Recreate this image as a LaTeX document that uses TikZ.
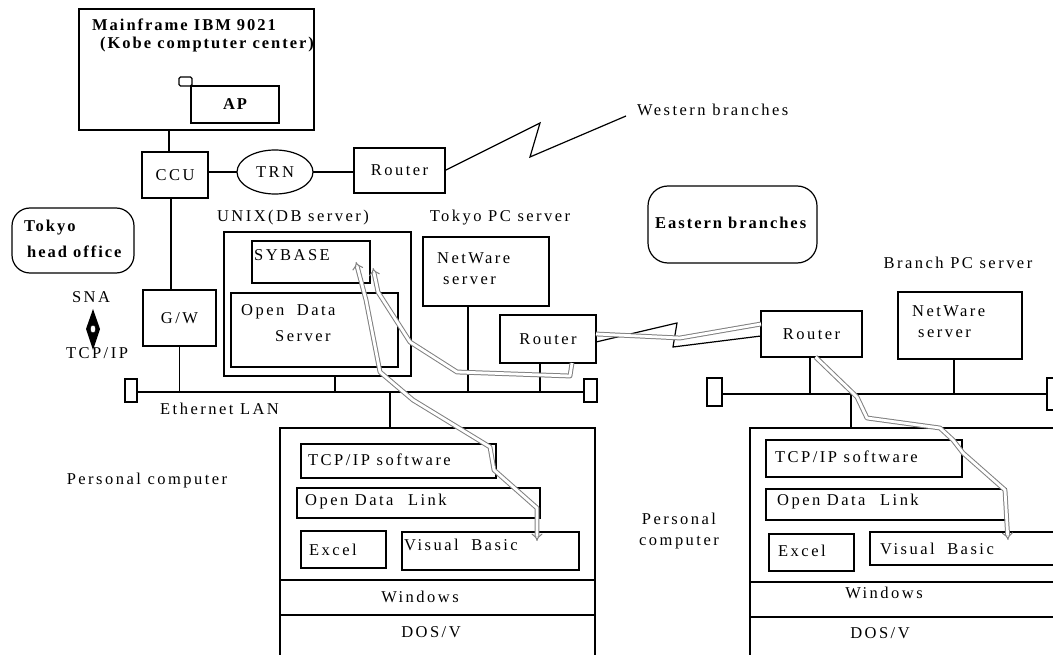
\documentclass[tikz,border=0pt]{standalone}
\usepackage{fontspec}
\setmainfont{Liberation Serif}[LetterSpace=15]
\newfontfamily\boldfam{Liberation Serif}[LetterSpace=12]
\usetikzlibrary{arrows.meta,shapes.geometric}
\begin{document}
\begin{tikzpicture}[x=1pt,y=-1pt,
  box/.style={draw,line width=1.2pt,inner sep=0pt,outer sep=0pt},
  fnt/.style={font=\fontsize{16.5}{20}\selectfont},
  bfnt/.style={font=\fontsize{16.5}{20}\boldfam\bfseries},
  txt/.style={inner sep=0pt,anchor=west,fnt},
  ctxt/.style={inner sep=0pt,fnt},
  btxt/.style={inner sep=0pt,anchor=west,bfnt},
  wire/.style={line width=1.2pt},
  flow/.style={draw=black!50,line width=1pt,double=white,double distance=2.8pt,line join=round},
  ftip/.tip={Implies[scale=1.4]},
]
\clip (0,0) rectangle (1053,655);
\fill[white] (0,0) rectangle (1053,655);

% ---------- Mainframe ----------
\node[box,minimum width=235pt,minimum height=121pt] (mf) at (196.5,69.5) {};
\node[btxt] (mft1) at (92,25) {Mainframe IBM 9021};
\node[btxt] (mft2) at (100,45) {(Kobe comptuter center)};
\node[box,rounded corners=1.5pt,minimum width=13pt,minimum height=9pt] (sq) at (185.5,81.5) {};
\node[box,minimum width=88pt,minimum height=37pt,bfnt] (ap) at (235,104.5) {AP};

% ---------- CCU / TRN / Router ----------
\node[box,minimum width=66pt,minimum height=46pt,fnt] (ccu) at (175,175) {CCU};
\node[box,ellipse,minimum width=76pt,minimum height=44pt,fnt] (trn) at (275,172) {TRN};
\node[box,minimum width=91pt,minimum height=45pt,fnt] (rt1) at (399.5,170.5) {Router};
\draw[wire] ([xshift=-6pt]ccu.north) -- ([xshift=-6pt]ccu.north |- mf.south);
\draw[wire] (ccu.east |- trn.west) -- (trn.west);
\draw[wire] (trn.east) -- (trn.east -| rt1.west);
\coordinate (wbend) at (626,116);
\draw[wire] (rt1.east) -- (540,123) -- (530,157) -- (wbend);
\node[txt] (wbt) at (637,110) {Western branches};

% ---------- Tokyo head office ----------
\node[box,rounded corners=18pt,minimum width=122pt,minimum height=65pt] (tho) at (73,240.5) {};
\node[btxt] (tho1) at (24,228) {Tokyo};
\node[btxt] (tho2) at (27,252) {head office};

% ---------- SNA / TCP/IP ----------
\node[ctxt] (sna) at (91,297) {SNA};
\node[ctxt] (tcpip) at (97,353) {TCP/IP};
\fill (93,309) -- (100,329) -- (93,350) -- (86,329) -- cycle;
\draw[fill=white,line width=0.6pt] (93,329) ellipse (2.8pt and 4pt);

% ---------- G/W ----------
\node[box,minimum width=73pt,minimum height=56pt,fnt] (gw) at (179.5,318) {G/W};
\draw[wire] ([xshift=-4pt]ccu.south) -- ([xshift=-4pt]ccu.south |- gw.north);

% ---------- Tokyo LAN ----------
\node[box,minimum width=12pt,minimum height=23pt] (tl1) at (131,390.5) {};
\node[box,minimum width=13pt,minimum height=23pt] (tr1) at (590.5,390.5) {};
\draw[wire] (tl1.east |- 0,392) -- (tr1.west |- 0,392);
\node[txt] (eth) at (160,409) {Ethernet LAN};
\draw[wire] (gw.south) -- (gw.south |- 0,392);

% ---------- UNIX ----------
\node[ctxt] (unixl) at (293,218) {UNIX(DB server)};
\node[box,minimum width=187pt,minimum height=144pt] (unix) at (317.5,304) {};
\node[box,minimum width=118pt,minimum height=42pt] (syb) at (311,262) {};
\node[txt] (sybt) at (254,255) {SYBASE};
\node[box,minimum width=167pt,minimum height=74pt] (ods) at (314.5,330) {};
\node[txt] (ods1) at (241,312) {Open\hspace{6pt} Data};
\node[txt] (ods2) at (275,336) {Server};
\draw[wire] (335,376) -- (335,392);

% ---------- Tokyo PC server ----------
\node[ctxt] (tpcl) at (500,218) {Tokyo PC server};
\node[box,minimum width=126pt,minimum height=69pt] (nw1) at (486,271.5) {};
\node[txt] (nw1a) at (437,258) {NetWare};
\node[txt] (nw1b) at (443,281) {server};
\draw[wire] (468,306) -- (468,392);
\node[box,minimum width=96pt,minimum height=48pt,fnt] (rt2) at (548,339) {Router};
\draw[wire] (540,363) -- (540,392);

% ---------- WAN link ----------
\node[box,minimum width=101pt,minimum height=46pt,fnt] (rt3) at (811.5,334) {Router};
\draw[wire] ([yshift=-3pt]rt2.east) -- (677,323) -- (673,347) -- ([yshift=-2pt]rt3.west);

% ---------- Eastern branches ----------
\node[box,rounded corners=20pt,minimum width=169pt,minimum height=77pt] (eb) at (732.5,224.5) {};
\node[btxt] (ebt) at (655,223) {Eastern branches};

% ---------- Branch PC server ----------
\node[ctxt] (bpcl) at (958,263) {Branch PC server};
\node[box,minimum width=124pt,minimum height=67pt] (nw2) at (960,325.5) {};
\node[txt] (nw2a) at (912,311) {NetWare};
\node[txt] (nw2b) at (918,334) {server};

% ---------- Branch LAN ----------
\node[box,minimum width=15pt,minimum height=28pt] (tl2) at (714.5,392) {};
\node[box,minimum width=14pt,minimum height=32pt] (tr2) at (1054,394) {};
\draw[wire] (tl2.east |- 0,394) -- (tr2.west |- 0,394);
\draw[wire] (810,357) -- (810,394);
\draw[wire] (954,359) -- (954,394);

% ---------- Left PC ----------
\node[ctxt] (pcl) at (147,481) {Personal computer};
\node[box,minimum width=315pt,minimum height=240pt] (pc1) at (437.5,548) {};
\draw[wire] (pc1.west |- 0,580) -- (pc1.east |- 0,580);
\draw[wire] (pc1.west |- 0,615) -- (pc1.east |- 0,615);
\draw[wire] (390,392) -- (390,428);
\node[box,minimum width=195pt,minimum height=34pt] (tcp1) at (398.5,461) {};
\node[txt] (tcp1t) at (308,460) {TCP/IP software};
\node[box,minimum width=243pt,minimum height=30pt] (odl1) at (418.5,503) {};
\node[txt] (odl1t) at (305,502) {Open Data\hspace{8pt} Link};
\node[box,minimum width=85pt,minimum height=37pt] (xl1) at (343.5,549.5) {};
\node[txt] (xl1t) at (309,550) {Excel};
\node[box,minimum width=177pt,minimum height=38pt] (vb1) at (490.5,551) {};
\node[txt] (vb1t) at (404,545) {Visual\hspace{6pt} Basic};
\node[ctxt] (win1) at (420,597) {Windows};
\node[ctxt] (dos1) at (431,632) {DOS/V};

% ---------- Right PC ----------
\node[ctxt,align=center,font=\fontsize{16.5}{21}\selectfont] (pcr) at (679,531) {Personal\\computer};
\node[box,minimum width=320pt,minimum height=250pt] (pc2) at (910,553) {};
\draw[wire] (pc2.west |- 0,582) -- (pc2.east |- 0,582);
\draw[wire] (pc2.west |- 0,617) -- (pc2.east |- 0,617);
\draw[wire] (851,394) -- (851,428);
\node[box,minimum width=196pt,minimum height=37pt] (tcp2) at (864,458.5) {};
\node[txt] (tcp2t) at (775,457) {TCP/IP software};
\node[box,minimum width=240pt,minimum height=31pt] (odl2) at (886,504.5) {};
\node[txt] (odl2t) at (777,502) {Open Data\hspace{8pt} Link};
\node[box,minimum width=85pt,minimum height=37pt] (xl2) at (811.5,552.5) {};
\node[txt] (xl2t) at (778,551) {Excel};
\node[box,minimum width=190pt,minimum height=33pt] (vb2) at (965,548.5) {};
\node[txt] (vb2t) at (880,549) {Visual\hspace{6pt} Basic};
\node[ctxt] (win2) at (884,593) {Windows};
\node[ctxt] (dos2) at (880,633) {DOS/V};

% ---------- data flows ----------
\coordinate (syA) at (356,262);
\coordinate (syB) at (373,268);
\coordinate (vbA) at (537,541);
\coordinate (vbB) at (1008,540);
\coordinate (rt2b) at ([xshift=24pt]rt2.south);
\draw[flow,{ftip}-{ftip}] (syA) -- (366,300) -- (380,372) -- (413,400) -- (490,447) -- (494,470) -- (537,508) -- (vbA);
\draw[flow,{ftip}-] (syB) -- (378,292) -- (410,342) -- (457,372) -- (570,376) -- (rt2b);
\draw[flow] ([yshift=5pt]rt2.east) -- (680,338) -- ([yshift=10pt]rt3.west);
\draw[flow,-{ftip}] ([xshift=4pt]rt3.south) -- (857,397) -- (867,418) -- (940,428) -- (953,440) -- (963,453) -- (1005,490) -- (1007,525) -- (vbB);
\end{tikzpicture}
\end{document}
